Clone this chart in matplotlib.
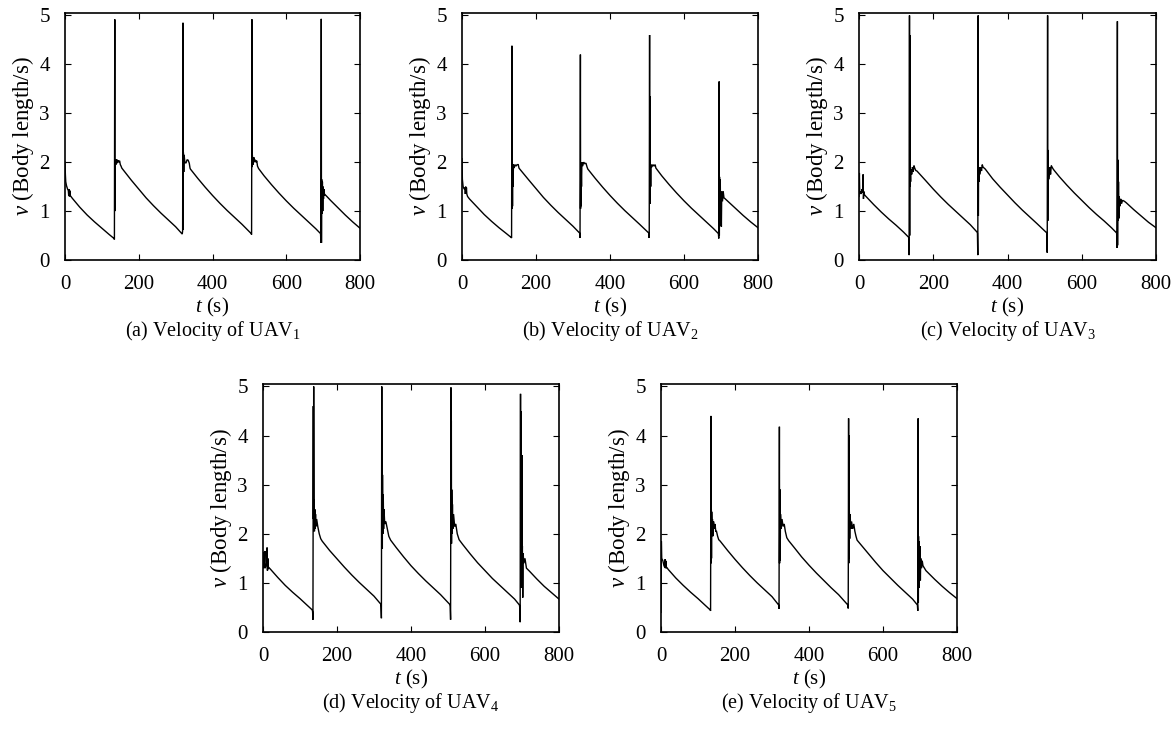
import matplotlib
matplotlib.use("Agg")
import matplotlib.pyplot as plt

plt.rcParams['font.family'] = ['Liberation Serif', 'DejaVu Serif']
plt.rcParams['mathtext.fontset'] = 'custom'
plt.rcParams['mathtext.rm'] = 'Liberation Serif'
plt.rcParams['mathtext.it'] = 'Liberation Serif:italic'

# ---------------- data ----------------
t_1 = [0, 1, 2, 4, 7, 9, 10, 11, 12, 13, 14, 15, 20, 40, 60, 80, 100, 120, 133,
       134, 135, 135.5, 136, 137, 138, 140, 142, 144, 146, 148, 150, 152, 154, 155,
       180, 200, 220, 240, 260, 280, 300, 318,
       319, 320, 320.5, 321, 322, 323, 325, 328, 331, 334, 337, 339, 340,
       360, 380, 400, 420, 440, 460, 480, 505,
       506, 507, 507.5, 508, 510, 512, 514, 516, 518, 520, 522, 525,
       540, 560, 580, 600, 620, 640, 660, 680, 693,
       694, 695, 695.5, 696, 697, 698, 699, 700, 701, 702, 704, 706, 710,
       720, 740, 760, 780, 800]
v_1 = [2.0, 1.75, 1.6, 1.52, 1.45, 1.42, 1.32, 1.45, 1.3, 1.42, 1.32, 1.31, 1.26, 1.08, 0.92, 0.78, 0.65, 0.52, 0.44,
       0.42, 4.92, 1.0, 1.85, 2.05, 1.95, 2.06, 1.98, 2.04, 2.0, 2.03, 1.95, 1.92, 1.88, 1.87,
       1.63, 1.45, 1.27, 1.11, 0.96, 0.82, 0.68, 0.53,
       0.6, 4.85, 0.62, 2.2, 1.8, 2.15, 2.0, 1.98, 2.05, 2.04, 1.98, 1.88, 1.86,
       1.67, 1.49, 1.32, 1.16, 1.01, 0.87, 0.73, 0.54,
       0.52, 4.92, 1.9, 2.15, 1.95, 2.1, 2.0, 2.05, 2.0, 2.03, 1.92, 1.87,
       1.72, 1.54, 1.37, 1.21, 1.06, 0.92, 0.78, 0.64, 0.54,
       0.36, 4.93, 0.35, 1.65, 0.95, 1.6, 1.0, 1.5, 1.25, 1.45, 1.33, 1.33, 1.30,
       1.22, 1.07, 0.92, 0.78, 0.65]

t_2 = [0, 1, 3, 6, 8, 9, 10, 11, 12, 13, 15, 20, 40, 60, 80, 100, 120, 133,
       134, 135, 135.5, 136, 136.5, 137, 138, 139, 141, 143, 146, 149, 152, 154, 156,
       180, 200, 220, 240, 260, 280, 300, 318,
       319, 320, 320.5, 321, 321.5, 322, 323, 324, 326, 329, 332, 335, 338, 340,
       360, 380, 400, 420, 440, 460, 480, 505,
       506, 507, 507.5, 508, 508.5, 509, 510, 511, 513, 516, 519, 522, 524, 526,
       540, 560, 580, 600, 620, 640, 660, 680, 693,
       694, 695, 695.5, 696, 697, 698, 699, 700, 701, 702, 704, 706, 708, 710,
       720, 740, 760, 780, 800]
v_2 = [2.07, 1.65, 1.5, 1.45, 1.48, 1.35, 1.5, 1.35, 1.48, 1.35, 1.3, 1.25, 1.09, 0.93, 0.79, 0.66, 0.54, 0.46,
       0.45, 4.38, 1.05, 2.0, 1.1, 1.95, 1.5, 1.95, 1.88, 1.95, 1.92, 1.95, 1.95, 1.88, 1.86,
       1.64, 1.46, 1.28, 1.12, 0.97, 0.83, 0.69, 0.55,
       0.45, 4.2, 1.05, 2.0, 1.1, 1.9, 1.5, 2.0, 1.92, 2.0, 1.97, 1.98, 1.9, 1.86,
       1.67, 1.49, 1.32, 1.16, 1.01, 0.87, 0.73, 0.55,
       0.45, 4.6, 1.2, 3.35, 1.15, 1.95, 1.5, 1.95, 1.9, 1.95, 1.92, 1.95, 1.88, 1.86,
       1.72, 1.54, 1.37, 1.21, 1.06, 0.92, 0.78, 0.64, 0.54,
       0.44, 3.65, 0.5, 1.7, 0.7, 1.65, 0.75, 1.3, 0.68, 1.4, 1.2, 1.4, 1.27, 1.26,
       1.19, 1.05, 0.91, 0.78, 0.66]

t_3 = [0, 1, 2, 4, 6, 8, 10, 11, 12, 13, 15, 20, 40, 60, 80, 100, 120, 133,
       134, 135, 136, 136.5, 137, 137.5, 138, 139, 140, 142, 144, 146, 148, 150, 153, 156,
       180, 200, 220, 240, 260, 280, 300, 318,
       319, 320, 321, 321.5, 322, 323, 324, 326, 328, 330, 332, 334, 337, 340,
       360, 380, 400, 420, 440, 460, 480, 505,
       506, 507, 508, 508.5, 509, 509.5, 510, 512, 514, 516, 518, 520, 523, 526,
       540, 560, 580, 600, 620, 640, 660, 680, 693,
       694, 695, 696, 696.5, 697, 698, 699, 700, 701, 703, 705, 707, 710, 715,
       720, 740, 760, 780, 800]
v_3 = [1.3, 1.78, 1.35, 1.4, 1.35, 1.45, 1.38, 1.75, 1.25, 1.4, 1.33, 1.29, 1.13, 0.98, 0.84, 0.71, 0.57, 0.47,
       0.46, 0.1, 5.0, 0.5, 4.6, 1.5, 1.8, 1.6, 1.85, 1.75, 1.9, 1.8, 1.93, 1.88, 1.83, 1.82,
       1.62, 1.45, 1.29, 1.14, 1.0, 0.86, 0.72, 0.57,
       0.55, 0.1, 5.0, 0.9, 1.85, 1.6, 1.9, 1.75, 1.9, 1.82, 1.95, 1.9, 1.88, 1.86,
       1.66, 1.49, 1.33, 1.17, 1.02, 0.88, 0.74, 0.56,
       0.55, 0.15, 5.0, 0.8, 2.25, 1.6, 1.9, 1.65, 1.9, 1.75, 1.93, 1.9, 1.86, 1.83,
       1.70, 1.53, 1.37, 1.22, 1.07, 0.93, 0.8, 0.66, 0.56,
       0.55, 0.25, 4.88, 0.3, 2.05, 0.8, 1.6, 0.85, 1.3, 1.1, 1.25, 1.15, 1.22, 1.2,
       1.17, 1.03, 0.9, 0.77, 0.66]

t_4 = [0, 1, 2, 3, 5, 6, 8, 10, 11, 12, 13, 14, 15, 20, 40, 60, 80, 100, 120, 133,
       134, 135, 136, 136.5, 137, 137.5, 138, 139, 140, 141, 142, 143, 145, 148, 152, 156, 160,
       180, 200, 220, 240, 260, 280, 300, 318,
       319, 320, 321, 321.5, 322, 322.5, 323, 324, 325, 326, 327, 329, 332, 336, 340, 345,
       360, 380, 400, 420, 440, 460, 480, 505,
       506, 507, 508, 508.5, 509, 509.5, 510, 511, 512, 513, 515, 518, 521, 525, 530,
       540, 560, 580, 600, 620, 640, 660, 680, 693,
       694, 695, 696, 696.5, 697, 697.5, 698, 699, 700, 700.5, 701, 702, 703, 705, 708, 712, 716,
       720, 740, 760, 780, 800]
v_4 = [1.6, 1.3, 1.62, 1.3, 1.65, 1.3, 1.35, 1.4, 1.72, 1.25, 1.5, 1.28, 1.32, 1.28, 1.11, 0.95, 0.81, 0.68, 0.54, 0.45,
       0.42, 0.25, 4.6, 2.3, 5.0, 2.1, 2.7, 2.05, 2.5, 2.1, 2.4, 2.15, 2.3, 2.15, 2.0, 1.9, 1.85,
       1.66, 1.49, 1.32, 1.16, 1.01, 0.87, 0.73, 0.57,
       0.52, 0.28, 5.0, 1.7, 4.3, 1.7, 3.2, 2.0, 2.8, 2.1, 2.5, 2.2, 2.25, 2.1, 1.95, 1.87,
       1.72, 1.53, 1.35, 1.19, 1.04, 0.9, 0.76, 0.56,
       0.52, 0.25, 4.98, 1.8, 4.3, 1.8, 2.9, 2.0, 2.6, 2.1, 2.4, 2.15, 2.2, 2.0, 1.88,
       1.78, 1.59, 1.41, 1.25, 1.09, 0.95, 0.81, 0.67, 0.55,
       0.5, 0.2, 4.85, 1.0, 4.5, 1.1, 3.6, 0.9, 3.6, 1.5, 1.75, 0.7, 1.6, 1.4, 1.5, 1.3, 1.27,
       1.24, 1.08, 0.93, 0.8, 0.67]

t_5 = [0, 1, 2, 5, 8, 10, 11, 12, 13, 14, 15, 20, 40, 60, 80, 100, 120, 133,
       134, 135, 135.5, 136, 136.5, 137, 138, 139, 140, 142, 144, 146, 148, 150, 153, 156, 160,
       180, 200, 220, 240, 260, 280, 300, 318,
       319, 320, 320.5, 321, 321.5, 322, 322.5, 323, 325, 327, 330, 333, 336, 340, 345,
       360, 380, 400, 420, 440, 460, 480, 505,
       506, 507, 507.5, 508, 508.5, 509, 510, 511, 513, 515, 518, 521, 524, 527, 530,
       540, 560, 580, 600, 620, 640, 660, 680, 693,
       694, 695, 695.5, 696, 697, 698, 699, 700, 701, 702, 704, 706, 708, 712, 716,
       720, 740, 760, 780, 800]
v_5 = [0.4, 1.85, 1.5, 1.45, 1.35, 1.32, 1.48, 1.3, 1.45, 1.3, 1.32, 1.27, 1.1, 0.95, 0.81, 0.68, 0.54, 0.45,
       0.43, 4.4, 1.4, 2.5, 1.5, 2.45, 2.0, 2.3, 1.95, 2.25, 2.1, 2.2, 2.05, 2.05, 1.95, 1.88, 1.85,
       1.66, 1.48, 1.31, 1.15, 1.0, 0.86, 0.72, 0.55,
       0.47, 4.18, 1.4, 2.45, 1.45, 2.9, 1.9, 2.4, 2.1, 2.3, 2.15, 2.2, 2.05, 1.92, 1.86,
       1.72, 1.53, 1.36, 1.2, 1.05, 0.9, 0.76, 0.55,
       0.48, 4.35, 1.4, 4.0, 1.5, 2.45, 1.9, 2.4, 2.1, 2.25, 2.1, 2.2, 2.05, 1.95, 1.87,
       1.78, 1.6, 1.42, 1.25, 1.1, 0.95, 0.81, 0.67, 0.55,
       0.43, 4.35, 0.6, 1.95, 0.9, 1.85, 1.1, 1.75, 1.05, 1.5, 1.3, 1.45, 1.35, 1.3, 1.25,
       1.22, 1.07, 0.93, 0.8, 0.68]

series_t = [t_1, t_2, t_3, t_4, t_5]
series_v = [v_1, v_2, v_3, v_4, v_5]
panel_letters = ['a', 'b', 'c', 'd', 'e']
uav_ids = ['1', '2', '3', '4', '5']
x_ticks = [0, 200, 400, 600, 800]
y_ticks = [0, 1, 2, 3, 4, 5]

# ---------------- layout ----------------
W, H = 1175, 729
fig = plt.figure(figsize=(W / 100, H / 100), dpi=100)

# axes boxes in pixels: left, top, right, bottom
boxes = [(65, 13, 360, 260), (462, 13, 758, 260), (859, 13, 1156, 260),
         (263, 384, 559, 632), (661, 384, 957, 632)]

for i, (l, tp, r, b) in enumerate(boxes):
    ax = fig.add_axes([l / W, 1 - b / H, (r - l) / W, (b - tp) / H])
    ax.plot(series_t[i], series_v[i], color='black', lw=1.0, solid_joinstyle='miter')
    ax.set_xlim(0, 800)
    ax.set_ylim(0, 5.05)
    ax.set_xticks(x_ticks)
    ax.set_yticks(y_ticks)
    ax.tick_params(direction='in', top=True, right=True, length=4, width=0.8,
                   labelsize=15, colors='black')
    ax.tick_params(axis='x', pad=11)
    ax.tick_params(axis='y', pad=11)
    for s in ax.spines.values():
        s.set_linewidth(1.2)
    hpx = b - tp
    wpx = r - l
    ax.set_xlabel(r'$t$ (s)', fontsize=15)
    ax.xaxis.set_label_coords(0.5, -47 / hpx)
    ax.xaxis.label.set_va('center')
    ax.set_ylabel(r'$v$ (Body length/s)', fontsize=16.5)
    ax.yaxis.set_label_coords(-42 / wpx, 0.5)
    ax.yaxis.label.set_va('center')
    ax.text(0.5, -71 / hpx,
            '(' + panel_letters[i] + ') Velocity of UAV$_{' + uav_ids[i] + '}$',
            transform=ax.transAxes, ha='center', va='center', fontsize=14.5)

fig.savefig('out.png', dpi=100)
